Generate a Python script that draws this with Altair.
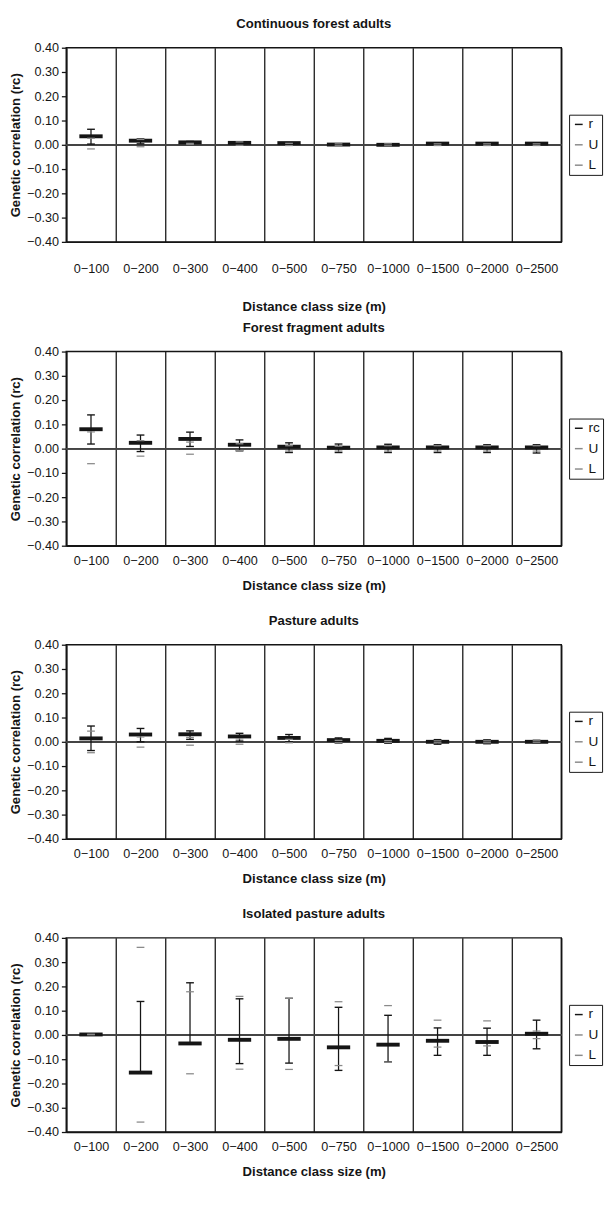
import altair as alt
import pandas as pd

classes = ["0−100", "0−200", "0−300", "0−400", "0−500",
           "0−750", "0−1000", "0−1500", "0−2000", "0−2500"]
panel_titles = ["Continuous forest adults", "Forest fragment adults",
                "Pasture adults", "Isolated pasture adults"]
r_names = ["r", "rc", "r", "r"]
y_ticks = [0.40, 0.30, 0.20, 0.10, 0.00, -0.10, -0.20, -0.30, -0.40]

# Continuous forest adults
cf_r = [0.035, 0.017, 0.010, 0.008, 0.007, 0.001, 0.000, 0.005, 0.005, 0.005]
cf_hi = [0.064, 0.024, 0.014, 0.011, 0.009, 0.004, 0.003, 0.007, 0.007, 0.007]
cf_lo = [0.003, 0.004, 0.005, 0.004, 0.004, -0.002, -0.003, 0.003, 0.003, 0.003]
cf_U = [0.027, 0.022, 0.006, 0.012, 0.006, 0.004, 0.004, 0.004, 0.004, 0.004]
cf_L = [-0.017, -0.008, 0.002, -0.002, -0.003, -0.004, -0.004, -0.003, -0.003, -0.003]

# Forest fragment adults
ff_r = [0.080, 0.024, 0.040, 0.016, 0.008, 0.004, 0.005, 0.005, 0.005, 0.005]
ff_hi = [0.139, 0.056, 0.068, 0.036, 0.024, 0.019, 0.018, 0.016, 0.016, 0.016]
ff_lo = [0.019, -0.012, 0.009, -0.009, -0.016, -0.016, -0.016, -0.016, -0.016, -0.018]
ff_U = [0.069, 0.033, 0.027, 0.020, 0.012, 0.010, 0.012, 0.012, 0.012, 0.012]
ff_L = [-0.062, -0.031, -0.023, -0.008, -0.010, -0.010, -0.010, -0.010, -0.010, -0.010]

# Pasture adults
pa_r = [0.014, 0.030, 0.031, 0.022, 0.016, 0.007, 0.004, 0.000, 0.000, 0.000]
pa_hi = [0.065, 0.055, 0.045, 0.035, 0.030, 0.016, 0.014, 0.009, 0.008, 0.006]
pa_lo = [-0.036, 0.000, 0.010, 0.003, 0.000, -0.005, -0.006, -0.010, -0.008, -0.006]
pa_U = [0.044, 0.020, 0.018, 0.012, 0.010, 0.006, 0.005, 0.004, 0.004, 0.004]
pa_L = [-0.045, -0.022, -0.014, -0.010, -0.004, -0.004, -0.003, -0.004, -0.004, -0.004]

# Isolated pasture adults
ip_r = [0.002, -0.155, -0.035, -0.020, -0.016, -0.051, -0.040, -0.024, -0.029, 0.005]
ip_hi = [0.002, 0.138, 0.215, 0.149, 0.151, 0.114, 0.081, 0.029, 0.028, 0.061]
ip_lo = [0.002, -0.155, -0.035, -0.118, -0.116, -0.146, -0.111, -0.084, -0.084, -0.057]
ip_U = [0.003, 0.361, 0.178, 0.159, 0.151, 0.137, 0.121, 0.061, 0.058, 0.016]
ip_L = [0.001, -0.359, -0.160, -0.141, -0.142, -0.126, -0.112, -0.050, -0.045, -0.015]

series = [
    (cf_r, cf_hi, cf_lo, cf_U, cf_L),
    (ff_r, ff_hi, ff_lo, ff_U, ff_L),
    (pa_r, pa_hi, pa_lo, pa_U, pa_L),
    (ip_r, ip_hi, ip_lo, ip_U, ip_L),
]

FONT = "Liberation Sans"
W, H = 510, 200
BLACK = "#151515"
GREY = "#8a8a8a"
YTITLE = "Genetic correlation (rc)"

Y_SCALE = alt.Scale(domain=[-0.4, 0.4], nice=False, zero=False)
Y_AXIS = alt.Axis(title=YTITLE, values=y_ticks, format=".2f", grid=False,
                  labelExpr="replace(datum.label, '-', '−')",
                  tickSize=5, tickColor=BLACK, tickWidth=1.3,
                  domainColor=BLACK, domainWidth=1.5, labelFontSize=13,
                  labelPadding=3, labelOverlap=False, labelColor=BLACK,
                  titleFontSize=13.5, titleFontWeight="bold", titlePadding=4,
                  titleColor=BLACK)


def xchan(i):
    lp, tp = (22, 25) if i == 0 else (9, 12)
    return alt.X(
        "cls:N", sort=classes,
        scale=alt.Scale(domain=classes, paddingInner=0, paddingOuter=0),
        axis=alt.Axis(title="Distance class size (m)", labelAngle=0, ticks=False,
                      grid=True, tickBand="extent", gridColor=BLACK, gridWidth=1.3,
                      gridOpacity=1, domainColor=BLACK, domainWidth=1.5,
                      labelFontSize=13, labelPadding=lp, labelOverlap=False,
                      labelColor=BLACK, titleFontSize=13.5, titleFontWeight="bold",
                      titlePadding=tp, titleColor=BLACK),
    )


def ychan(field):
    return alt.Y(field, title=YTITLE, scale=Y_SCALE, axis=Y_AXIS)


def panel(i):
    r, hi, lo, U, L = series[i]
    df = pd.DataFrame({"cls": classes, "r": r, "hi": hi, "lo": lo, "U": U, "L": L})
    base = alt.Chart(df)
    zero = base.mark_rule(color="#444", strokeWidth=1.5).encode(
        y=alt.YDatum(0, title=YTITLE, scale=Y_SCALE, axis=Y_AXIS))
    bars = base.mark_tick(color=BLACK, size=24, thickness=4, opacity=1).encode(
        x=xchan(i), y=ychan("r:Q"))
    err = base.mark_rule(color=BLACK, strokeWidth=1.3).encode(
        x=xchan(i), y=ychan("lo:Q"), y2="hi:Q")
    cap_hi = base.mark_tick(color=BLACK, size=8, thickness=1.4, opacity=1).encode(
        x=xchan(i), y=ychan("hi:Q"))
    cap_lo = base.mark_tick(color=BLACK, size=8, thickness=1.4, opacity=1).encode(
        x=xchan(i), y=ychan("lo:Q"))
    ul = base.transform_fold(["U", "L"], as_=["series", "val"]).mark_point(
        shape="stroke", size=64, strokeWidth=1.3, opacity=1, filled=False
    ).encode(
        x=xchan(i), y=ychan("val:Q"),
        color=alt.Color(
            "series:N",
            scale=alt.Scale(domain=[r_names[i], "U", "L"], range=[BLACK, GREY, GREY]),
            legend=alt.Legend(title=None, orient="none", legendX=W + 8,
                              legendY=H / 2 - 31, symbolType="stroke",
                              symbolStrokeWidth=1.5, symbolSize=64,
                              labelFontSize=14, labelColor=BLACK, labelOffset=3,
                              strokeColor=BLACK, fillColor="white", padding=3,
                              rowPadding=7),
        ),
    )
    return alt.layer(zero, bars, err, cap_hi, cap_lo, ul).properties(
        width=W, height=H,
        title=alt.TitleParams(panel_titles[i], fontSize=13.5, fontWeight="bold",
                              font=FONT, anchor="middle", offset=12, color=BLACK),
    )


lower = alt.vconcat(panel(1), panel(2), panel(3), spacing=20).resolve_scale(
    color="independent").resolve_legend(color="independent")

chart = alt.vconcat(panel(0), lower, spacing=5).resolve_scale(
    color="independent"
).resolve_legend(color="independent").properties(
    padding={"top": -10, "left": 0, "right": 0, "bottom": 0}
).configure_view(stroke=BLACK, strokeWidth=1.5).configure_axis(
    labelFont=FONT, titleFont=FONT
).configure_legend(labelFont=FONT).configure_title(font=FONT)

chart.save("out.html", embed_options={"renderer": "svg", "actions": False})
